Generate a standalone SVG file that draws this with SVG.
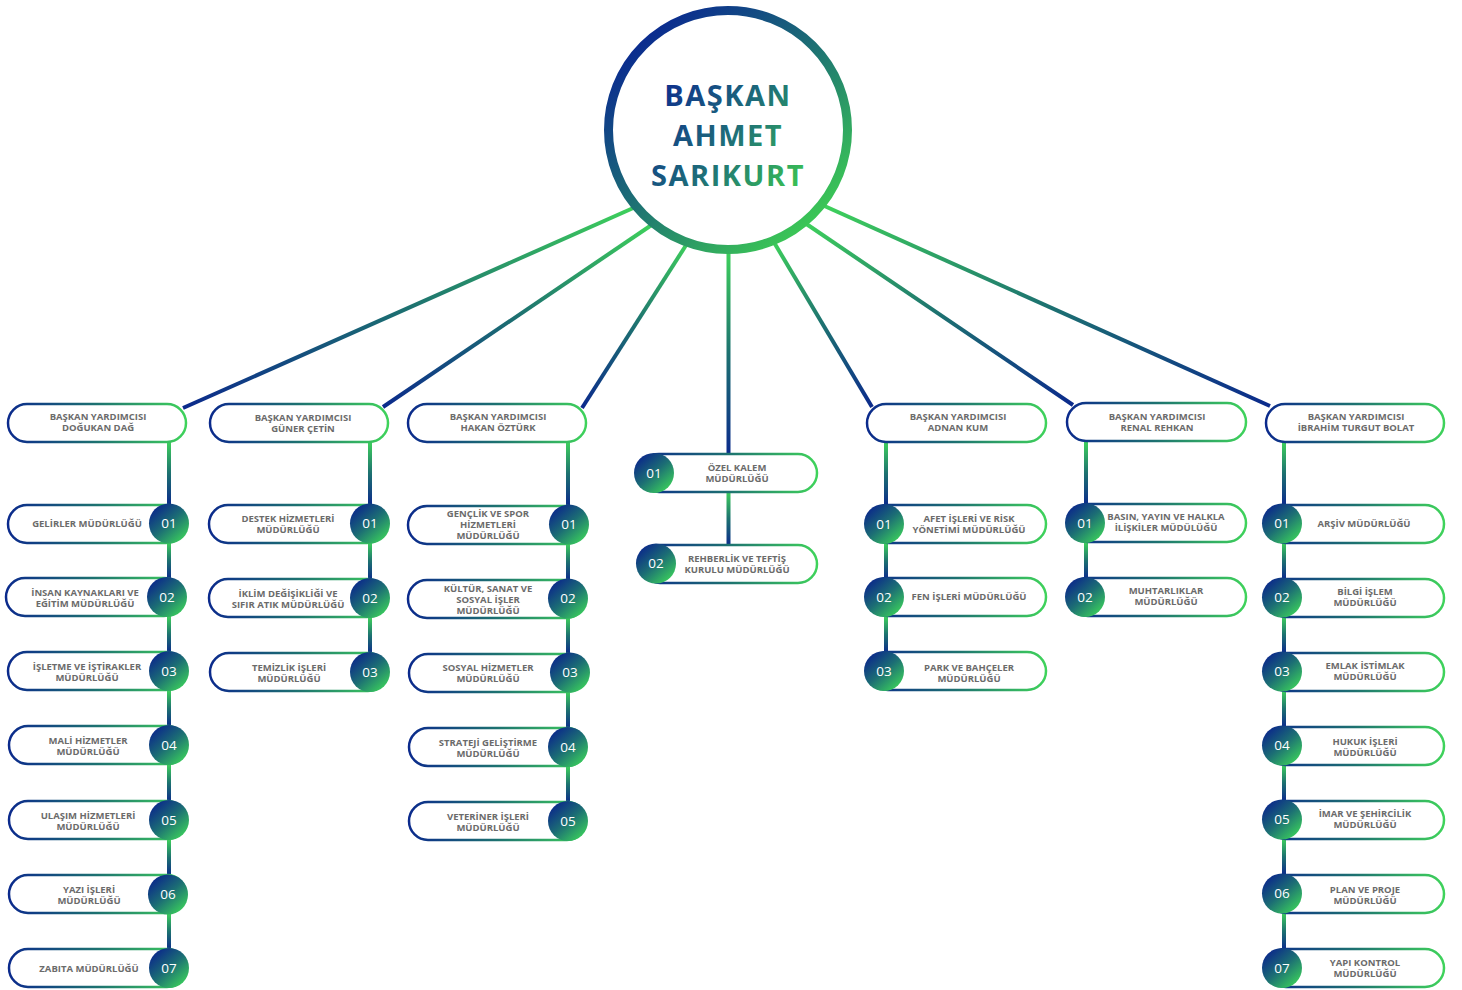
<svg xmlns="http://www.w3.org/2000/svg" width="1462" height="990" viewBox="0 0 1462 990">
<defs>
<linearGradient id="gPill" x1="0" y1="0" x2="1" y2="0"><stop offset="0" stop-color="#0b2a8c"/><stop offset="0.5" stop-color="#1d7270"/><stop offset="1" stop-color="#3fd35b"/></linearGradient>
<linearGradient id="gNum" x1="0.15" y1="0.1" x2="0.85" y2="0.9"><stop offset="0" stop-color="#0b2a8a"/><stop offset="0.5" stop-color="#1c6e74"/><stop offset="1" stop-color="#39c95d"/></linearGradient>
<linearGradient id="gRing" x1="0.15" y1="0.1" x2="0.85" y2="0.9"><stop offset="0" stop-color="#0a2a90"/><stop offset="0.5" stop-color="#1e7472"/><stop offset="1" stop-color="#3cc855"/></linearGradient>
<linearGradient id="gName" gradientUnits="userSpaceOnUse" x1="660" y1="80" x2="805" y2="190"><stop offset="0" stop-color="#0d2b8e"/><stop offset="0.5" stop-color="#1e6e78"/><stop offset="1" stop-color="#3cc850"/></linearGradient>
<linearGradient id="gV" x1="0" y1="0" x2="0" y2="1"><stop offset="0" stop-color="#3fd35b"/><stop offset="0.5" stop-color="#1d7270"/><stop offset="1" stop-color="#0b2a8c"/></linearGradient>
<linearGradient id="gL" x1="1" y1="0" x2="0" y2="1"><stop offset="0" stop-color="#3fd35b"/><stop offset="0.5" stop-color="#1d7270"/><stop offset="1" stop-color="#0b2a8c"/></linearGradient>
<linearGradient id="gR" x1="0" y1="0" x2="1" y2="1"><stop offset="0" stop-color="#3fd35b"/><stop offset="0.5" stop-color="#1d7270"/><stop offset="1" stop-color="#0b2a8c"/></linearGradient>
</defs>
<style>
.pill{fill:#fff;stroke:url(#gPill);stroke-width:2.5}
.num{fill:url(#gNum)}
.nt{font-family:"Open Sans",sans-serif;font-size:13.5px;fill:#fff;text-anchor:middle}
.t{font-family:"Open Sans",sans-serif;font-weight:700;font-size:9.5px;fill:#6b6b6b;text-anchor:middle}
.v{fill:url(#gV)}
.ln{stroke-width:4;fill:none}
.name{font-family:"Open Sans",sans-serif;font-weight:700;font-size:29px;fill:url(#gName);text-anchor:middle;letter-spacing:1.5px}
</style>
<rect width="1462" height="990" fill="#fff"/>
<g id="connectors">
<line class="ln" x1="640" y1="205" x2="183" y2="408" stroke="url(#gL)"/>
<line class="ln" x1="656" y1="222" x2="383" y2="407" stroke="url(#gL)"/>
<line class="ln" x1="690" y1="239" x2="582" y2="408" stroke="url(#gL)"/>
<rect class="v" x="726.5" y="250" width="4" height="205"/>
<line class="ln" x1="772" y1="239" x2="872" y2="407" stroke="url(#gR)"/>
<line class="ln" x1="802" y1="221" x2="1073" y2="405" stroke="url(#gR)"/>
<line class="ln" x1="820" y1="204" x2="1270" y2="406" stroke="url(#gR)"/>
<rect class="v" x="167" y="441" width="4" height="64"/>
<rect class="v" x="167" y="542" width="4" height="37"/>
<rect class="v" x="167" y="616" width="4" height="37"/>
<rect class="v" x="167" y="690" width="4" height="37"/>
<rect class="v" x="167" y="764" width="4" height="38"/>
<rect class="v" x="167" y="839" width="4" height="37"/>
<rect class="v" x="167" y="913" width="4" height="37"/>
<rect class="v" x="368" y="441" width="4" height="64"/>
<rect class="v" x="368" y="542" width="4" height="38"/>
<rect class="v" x="368" y="617" width="4" height="37"/>
<rect class="v" x="566" y="441" width="4" height="65"/>
<rect class="v" x="566" y="543" width="4" height="37"/>
<rect class="v" x="566" y="617" width="4" height="37"/>
<rect class="v" x="566" y="691" width="4" height="38"/>
<rect class="v" x="566" y="766" width="4" height="37"/>
<rect class="v" x="726.5" y="491" width="4" height="55"/>
<rect class="v" x="884" y="441" width="4" height="65"/>
<rect class="v" x="884" y="543" width="4" height="36"/>
<rect class="v" x="884" y="616" width="4" height="37"/>
<rect class="v" x="1084" y="441" width="4" height="64"/>
<rect class="v" x="1084" y="542" width="4" height="37"/>
<rect class="v" x="1282" y="441" width="4" height="64"/>
<rect class="v" x="1282" y="542" width="4" height="37"/>
<rect class="v" x="1282" y="616" width="4" height="37"/>
<rect class="v" x="1282" y="690" width="4" height="37"/>
<rect class="v" x="1282" y="764" width="4" height="37"/>
<rect class="v" x="1282" y="838" width="4" height="37"/>
<rect class="v" x="1282" y="912" width="4" height="38"/>
</g>
<g id="president">
<circle cx="728" cy="130" r="119.5" fill="#fff" stroke="url(#gRing)" stroke-width="9"/>
<text class="name" x="728" y="106">BAŞKAN</text>
<text class="name" x="728" y="146">AHMET</text>
<text class="name" x="728" y="186">SARIKURT</text>
</g>
<g id="vp1"><rect class="pill" x="8" y="404" width="178" height="38" rx="19"/><text class="t" x="98" y="419.5">BAŞKAN YARDIMCISI</text><text class="t" x="98" y="430.5">DOĞUKAN DAĞ</text></g>
<g id="vp2"><rect class="pill" x="210" y="404" width="178" height="38" rx="19"/><text class="t" x="303" y="420.5">BAŞKAN YARDIMCISI</text><text class="t" x="303" y="431.5">GÜNER ÇETİN</text></g>
<g id="vp3"><rect class="pill" x="408" y="404" width="178" height="38" rx="19"/><text class="t" x="498" y="419.5">BAŞKAN YARDIMCISI</text><text class="t" x="498" y="430.5">HAKAN ÖZTÜRK</text></g>
<g id="vp5"><rect class="pill" x="867" y="404" width="179" height="38" rx="19"/><text class="t" x="958" y="419.5">BAŞKAN YARDIMCISI</text><text class="t" x="958" y="430.5">ADNAN KUM</text></g>
<g id="vp6"><rect class="pill" x="1067" y="403" width="179" height="38" rx="19"/><text class="t" x="1157" y="419.5">BAŞKAN YARDIMCISI</text><text class="t" x="1157" y="430.5">RENAL REHKAN</text></g>
<g id="vp7"><rect class="pill" x="1266" y="404" width="178" height="38" rx="19"/><text class="t" x="1356" y="419.5">BAŞKAN YARDIMCISI</text><text class="t" x="1356" y="430.5">İBRAHİM TURGUT BOLAT</text></g>

<g id="c1-01"><rect class="pill" x="8" y="505" width="177" height="38" rx="19"/><circle class="num" cx="169" cy="523.5" r="20"/><text class="nt" x="169" y="528">01</text><text class="t" x="87" y="527">GELİRLER MÜDÜRLÜĞÜ</text></g>
<g id="c1-02"><rect class="pill" x="6" y="578" width="177" height="38" rx="19"/><circle class="num" cx="167" cy="597" r="20"/><text class="nt" x="167" y="601.5">02</text><text class="t" x="85" y="595.5">İNSAN KAYNAKLARI VE</text><text class="t" x="85" y="606.5">EĞİTİM MÜDÜRLÜĞÜ</text></g>
<g id="c1-03"><rect class="pill" x="8" y="652" width="177" height="38" rx="19"/><circle class="num" cx="169" cy="671" r="20"/><text class="nt" x="169" y="675.5">03</text><text class="t" x="87" y="669.5">İŞLETME VE İŞTİRAKLER</text><text class="t" x="87" y="680.5">MÜDÜRLÜĞÜ</text></g>
<g id="c1-04"><rect class="pill" x="9" y="726" width="177" height="38" rx="19"/><circle class="num" cx="169" cy="745" r="20"/><text class="nt" x="169" y="749.5">04</text><text class="t" x="88" y="743.5">MALİ HİZMETLER</text><text class="t" x="88" y="754.5">MÜDÜRLÜĞÜ</text></g>
<g id="c1-05"><rect class="pill" x="9" y="801" width="177" height="38" rx="19"/><circle class="num" cx="169" cy="820" r="20"/><text class="nt" x="169" y="824.5">05</text><text class="t" x="88" y="818.5">ULAŞIM HİZMETLERİ</text><text class="t" x="88" y="829.5">MÜDÜRLÜĞÜ</text></g>
<g id="c1-06"><rect class="pill" x="9" y="875" width="177" height="38" rx="19"/><circle class="num" cx="168" cy="894.5" r="20"/><text class="nt" x="168" y="899">06</text><text class="t" x="89" y="892.5">YAZI İŞLERİ</text><text class="t" x="89" y="903.5">MÜDÜRLÜĞÜ</text></g>
<g id="c1-07"><rect class="pill" x="9" y="949" width="177" height="38" rx="19"/><circle class="num" cx="169" cy="968" r="20"/><text class="nt" x="169" y="972.5">07</text><text class="t" x="89" y="971.5">ZABITA MÜDÜRLÜĞÜ</text></g>

<g id="c2-01"><rect class="pill" x="209" y="505" width="177" height="38" rx="19"/><circle class="num" cx="370" cy="523.5" r="20"/><text class="nt" x="370" y="528">01</text><text class="t" x="288" y="521.5">DESTEK HİZMETLERİ</text><text class="t" x="288" y="532.5">MÜDÜRLÜĞÜ</text></g>
<g id="c2-02"><rect class="pill" x="209" y="579" width="177" height="38" rx="19"/><circle class="num" cx="370" cy="598" r="20"/><text class="nt" x="370" y="602.5">02</text><text class="t" x="288" y="596.5">İKLİM DEĞİŞİKLİĞİ VE</text><text class="t" x="288" y="607.5">SIFIR ATIK MÜDÜRLÜĞÜ</text></g>
<g id="c2-03"><rect class="pill" x="210" y="653" width="177" height="38" rx="19"/><circle class="num" cx="370" cy="672" r="20"/><text class="nt" x="370" y="676.5">03</text><text class="t" x="289" y="670.5">TEMİZLİK İŞLERİ</text><text class="t" x="289" y="681.5">MÜDÜRLÜĞÜ</text></g>

<g id="c3-01"><rect class="pill" x="408" y="506" width="177" height="38" rx="19"/><circle class="num" cx="569" cy="524.5" r="20"/><text class="nt" x="569" y="529">01</text><text class="t" x="488" y="516.5">GENÇLİK VE SPOR</text><text class="t" x="488" y="527.5">HİZMETLERİ</text><text class="t" x="488" y="538.5">MÜDÜRLÜĞÜ</text></g>
<g id="c3-02"><rect class="pill" x="408" y="580" width="177" height="38" rx="19"/><circle class="num" cx="568" cy="598.5" r="20"/><text class="nt" x="568" y="603">02</text><text class="t" x="488" y="591.5">KÜLTÜR, SANAT VE</text><text class="t" x="488" y="602.5">SOSYAL İŞLER</text><text class="t" x="488" y="613.5">MÜDÜRLÜĞÜ</text></g>
<g id="c3-03"><rect class="pill" x="409" y="654" width="177" height="38" rx="19"/><circle class="num" cx="570" cy="672.5" r="20"/><text class="nt" x="570" y="677">03</text><text class="t" x="488" y="670.5">SOSYAL HİZMETLER</text><text class="t" x="488" y="681.5">MÜDÜRLÜĞÜ</text></g>
<g id="c3-04"><rect class="pill" x="409" y="728" width="177" height="38" rx="19"/><circle class="num" cx="568" cy="747" r="20"/><text class="nt" x="568" y="751.5">04</text><text class="t" x="488" y="745.5">STRATEJİ GELİŞTİRME</text><text class="t" x="488" y="756.5">MÜDÜRLÜĞÜ</text></g>
<g id="c3-05"><rect class="pill" x="409" y="802" width="177" height="38" rx="19"/><circle class="num" cx="568" cy="821" r="20"/><text class="nt" x="568" y="825.5">05</text><text class="t" x="488" y="819.5">VETERİNER İŞLERİ</text><text class="t" x="488" y="830.5">MÜDÜRLÜĞÜ</text></g>

<g id="c4-01"><rect class="pill" x="640" y="454" width="177" height="38" rx="19"/><circle class="num" cx="654" cy="473" r="20"/><text class="nt" x="654" y="477.5">01</text><text class="t" x="737" y="471">ÖZEL KALEM</text><text class="t" x="737" y="482">MÜDÜRLÜĞÜ</text></g>
<g id="c4-02"><rect class="pill" x="641" y="545" width="176" height="38" rx="19"/><circle class="num" cx="656" cy="563.5" r="20"/><text class="nt" x="656" y="568">02</text><text class="t" x="737" y="562">REHBERLİK VE TEFTİŞ</text><text class="t" x="737" y="573">KURULU MÜDÜRLÜĞÜ</text></g>

<g id="c5-01"><rect class="pill" x="869" y="505" width="177" height="38" rx="19"/><circle class="num" cx="884" cy="524" r="20"/><text class="nt" x="884" y="528.5">01</text><text class="t" x="969" y="522">AFET İŞLERİ VE RİSK</text><text class="t" x="969" y="533">YÖNETİMİ MÜDÜRLÜĞÜ</text></g>
<g id="c5-02"><rect class="pill" x="869" y="578" width="177" height="38" rx="19"/><circle class="num" cx="884" cy="597" r="20"/><text class="nt" x="884" y="601.5">02</text><text class="t" x="969" y="600">FEN İŞLERİ MÜDÜRLÜĞÜ</text></g>
<g id="c5-03"><rect class="pill" x="869" y="652" width="177" height="38" rx="19"/><circle class="num" cx="884" cy="671" r="20"/><text class="nt" x="884" y="675.5">03</text><text class="t" x="969" y="670.5">PARK VE BAHÇELER</text><text class="t" x="969" y="681.5">MÜDÜRLÜĞÜ</text></g>

<g id="c6-01"><rect class="pill" x="1069" y="504" width="177" height="38" rx="19"/><circle class="num" cx="1085" cy="523" r="20"/><text class="nt" x="1085" y="527.5">01</text><text class="t" x="1166" y="520">BASIN, YAYIN VE HALKLA</text><text class="t" x="1166" y="531">İLİŞKİLER MÜDÜLÜĞÜ</text></g>
<g id="c6-02"><rect class="pill" x="1069" y="578" width="177" height="38" rx="19"/><circle class="num" cx="1085" cy="597" r="20"/><text class="nt" x="1085" y="601.5">02</text><text class="t" x="1166" y="594">MUHTARLIKLAR</text><text class="t" x="1166" y="605">MÜDÜRLÜĞÜ</text></g>

<g id="c7-01"><rect class="pill" x="1267" y="505" width="177" height="38" rx="19"/><circle class="num" cx="1282" cy="523.5" r="20"/><text class="nt" x="1282" y="528">01</text><text class="t" x="1364" y="527">ARŞİV MÜDÜRLÜĞÜ</text></g>
<g id="c7-02"><rect class="pill" x="1267" y="579" width="177" height="38" rx="19"/><circle class="num" cx="1282" cy="597.5" r="20"/><text class="nt" x="1282" y="602">02</text><text class="t" x="1365" y="594.5">BİLGİ İŞLEM</text><text class="t" x="1365" y="605.5">MÜDÜRLÜĞÜ</text></g>
<g id="c7-03"><rect class="pill" x="1267" y="653" width="177" height="38" rx="19"/><circle class="num" cx="1282" cy="671.5" r="20"/><text class="nt" x="1282" y="676">03</text><text class="t" x="1365" y="668.5">EMLAK İSTİMLAK</text><text class="t" x="1365" y="679.5">MÜDÜRLÜĞÜ</text></g>
<g id="c7-04"><rect class="pill" x="1267" y="727" width="177" height="38" rx="19"/><circle class="num" cx="1282" cy="745.5" r="20"/><text class="nt" x="1282" y="750">04</text><text class="t" x="1365" y="744.5">HUKUK İŞLERİ</text><text class="t" x="1365" y="755.5">MÜDÜRLÜĞÜ</text></g>
<g id="c7-05"><rect class="pill" x="1267" y="801" width="177" height="38" rx="19"/><circle class="num" cx="1282" cy="819.5" r="20"/><text class="nt" x="1282" y="824">05</text><text class="t" x="1365" y="816.5">İMAR VE ŞEHİRCİLİK</text><text class="t" x="1365" y="827.5">MÜDÜRLÜĞÜ</text></g>
<g id="c7-06"><rect class="pill" x="1267" y="875" width="177" height="38" rx="19"/><circle class="num" cx="1282" cy="893.5" r="20"/><text class="nt" x="1282" y="898">06</text><text class="t" x="1365" y="892.5">PLAN VE PROJE</text><text class="t" x="1365" y="903.5">MÜDÜRLÜĞÜ</text></g>
<g id="c7-07"><rect class="pill" x="1267" y="949" width="177" height="38" rx="19"/><circle class="num" cx="1282" cy="968" r="20"/><text class="nt" x="1282" y="972.5">07</text><text class="t" x="1365" y="965.5">YAPI KONTROL</text><text class="t" x="1365" y="976.5">MÜDÜRLÜĞÜ</text></g>
</svg>
